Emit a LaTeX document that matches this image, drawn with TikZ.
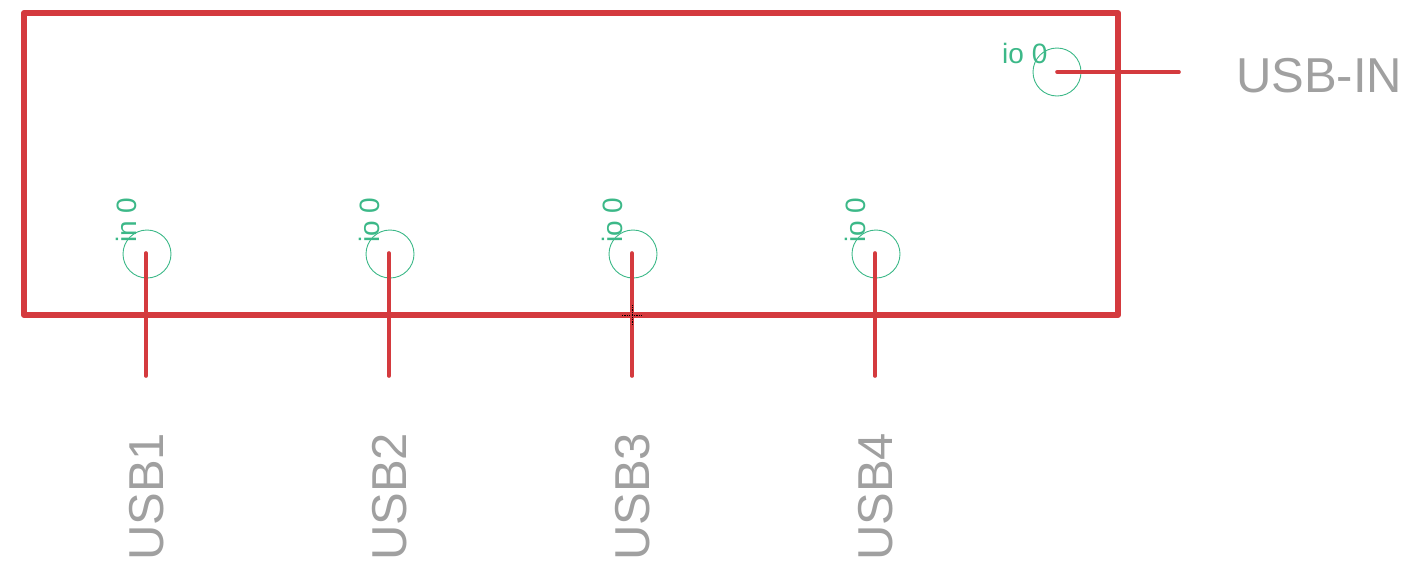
\documentclass[tikz,border=0pt]{standalone}
\usepackage{fontspec}
\setmainfont{Liberation Sans}
\definecolor{frame}{RGB}{212,58,62}
\definecolor{pinlbl}{RGB}{60,184,136}
\definecolor{namegray}{RGB}{160,160,160}
\tikzset{
  framebox/.style={draw=frame, line width=6pt, line join=round, line cap=round},
  pinline/.style={draw=frame, line width=3.6pt, line cap=round},
  pinring/.style={circle, draw=pinlbl, line width=0.9pt, minimum size=48pt, inner sep=0pt},
  pinlabel/.style={text=pinlbl, inner sep=0pt, font=\fontsize{28}{28}\selectfont},
  netname/.style={text=namegray, inner sep=0pt, font=\fontsize{49}{49}\selectfont},
  origin/.style={draw=black, line width=0.8pt, dash pattern=on 1.2pt off 1.2pt}
}
\begin{document}
\begin{tikzpicture}[x=1pt,y=-1pt]
\useasboundingbox (0,0) rectangle (1425,574);
% frame
\coordinate (fnw) at (24,13);
\coordinate (fse) at (1118,315);
\draw[framebox] (fnw) rectangle (fse);
% USB-IN pin
\node[pinring] (r0) at (1057,72) {};
\coordinate (p0a) at (1057,72);
\coordinate (p0b) at (1179,72);
\draw[pinline] (p0a) -- (p0b);
\node[pinlabel, anchor=base west] (l0) at (1002,63) {io 0};
\node[netname, anchor=base west] (n0) at (1236,92) {USB-IN};
% bottom pins
\foreach \i/\x/\t in {1/146/in 0, 2/389/io 0, 3/632/io 0, 4/875/io 0}{
  \node[pinring] (r\i) at (\x+1,254) {};
  \coordinate (pa\i) at (\x,253);
  \coordinate (pb\i) at (\x,376);
  \draw[pinline] (pa\i) -- (pb\i);
  \node[pinlabel, rotate=90, anchor=base west] (l\i) at (\x-9.5,243) {\t};
  \node[netname, rotate=90, anchor=base west] (n\i) at (\x+17,561) {USB\i};
}
% origin cross
\coordinate (oc) at (632,315);
\draw[origin] ([xshift=-10pt]oc) -- ([xshift=10pt]oc);
\draw[origin] ([yshift=-10pt]oc) -- ([yshift=10pt]oc);
\end{tikzpicture}
\end{document}
